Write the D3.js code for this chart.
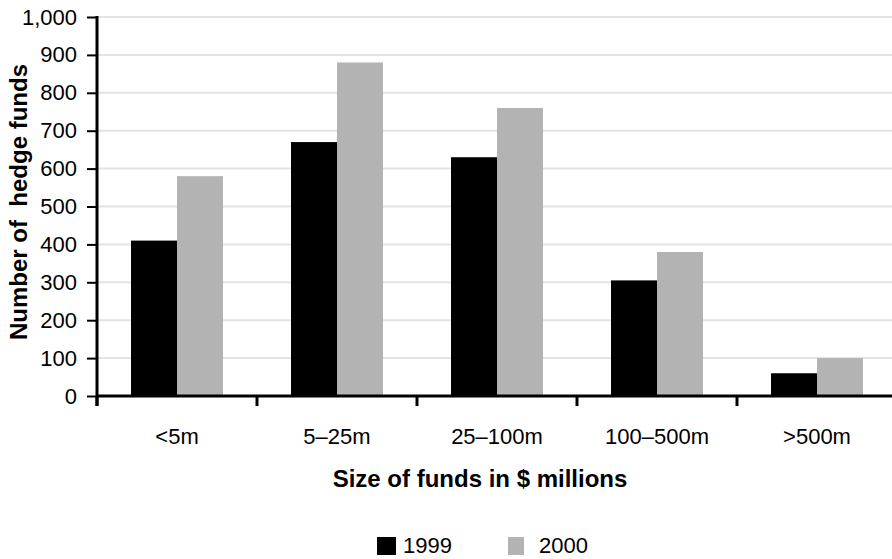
<!DOCTYPE html>
<html>
<head>
<meta charset="utf-8">
<script src="https://cdn.jsdelivr.net/npm/d3@7"></script>
<style>
  body { margin: 0; background: #fff; }
  svg { display: block; font-family: "Liberation Sans", Arial, Helvetica, sans-serif; }
</style>
</head>
<body>
<svg width="892" height="559"></svg>
<script>
const categories = ['<5m', '5–25m', '25–100m', '100–500m', '>500m'];
const years = ['1999', '2000'];
const values1999 = [410, 670, 630, 305, 60];
const values2000 = [580, 880, 760, 380, 100];
const yTicks = [0, 100, 200, 300, 400, 500, 600, 700, 800, 900, 1000];
const colors = ['#000000', '#b3b3b3'];

const width = 892;
const height = 559;
const plotLeft = 97;
const plotRight = 897;
const plotTop = 17;
const plotBottom = 396;

const rows = categories.map((c, i) => ({ category: c, values: [values1999[i], values2000[i]] }));

const svg = d3.select('svg');

const xScale = d3.scaleBand()
    .domain(categories)
    .range([plotLeft, plotRight])
    .paddingInner(0.425)
    .paddingOuter(0.2125);

const xInner = d3.scaleBand()
    .domain(years)
    .range([0, xScale.bandwidth()]);

const yScale = d3.scaleLinear()
    .domain([0, 1000])
    .range([plotBottom, plotTop]);

// gridlines
svg.append('g')
    .selectAll('line')
    .data(yTicks.filter(d => d > 0))
    .enter()
    .append('line')
    .attr('x1', plotLeft)
    .attr('x2', width)
    .attr('y1', d => yScale(d))
    .attr('y2', d => yScale(d))
    .attr('stroke', '#e3e3e3')
    .attr('stroke-width', 2);

// bars
const groups = svg.append('g')
    .selectAll('.bar')
    .data(rows)
    .enter()
    .append('g')
    .classed('bar', true)
    .attr('transform', d => `translate(${xScale(d.category)}, 0)`);

groups.selectAll('rect')
    .data(d => d.values.map((v, i) => ({ year: years[i], value: v, i })))
    .enter()
    .append('rect')
    .attr('x', d => xInner(d.year))
    .attr('y', d => yScale(d.value))
    .attr('width', xInner.bandwidth())
    .attr('height', d => plotBottom - yScale(d.value))
    .attr('fill', d => colors[d.i]);

// y axis
const yAxis = d3.axisLeft(yScale)
    .tickValues(yTicks)
    .tickSizeInner(10)
    .tickSizeOuter(0)
    .tickPadding(10)
    .tickFormat(d3.format(','));

const yAxisG = svg.append('g')
    .attr('transform', `translate(${plotLeft}, 0)`)
    .classed('y-axis', true)
    .call(yAxis);

yAxisG.select('.domain')
    .attr('stroke-width', 3)
    .attr('d', `M0,${plotTop - 1}V${plotBottom + 10}`);
yAxisG.selectAll('.tick line').attr('stroke-width', 2);
yAxisG.selectAll('.tick text')
    .attr('font-size', 22)
    .attr('fill', '#000')
    .style('font-family', '"Liberation Sans", Arial, sans-serif');

// x axis line
svg.append('line')
    .attr('x1', plotLeft)
    .attr('x2', width)
    .attr('y1', plotBottom)
    .attr('y2', plotBottom)
    .attr('stroke', '#000')
    .attr('stroke-width', 3);

// x tick marks at category boundaries
const half = xScale.step() * xScale.paddingOuter();
svg.append('g')
    .selectAll('line')
    .data(categories)
    .enter()
    .append('line')
    .attr('x1', d => xScale(d) - half)
    .attr('x2', d => xScale(d) - half)
    .attr('y1', plotBottom)
    .attr('y2', plotBottom + 10)
    .attr('stroke', '#000')
    .attr('stroke-width', 3);

// category labels
const xAxis = d3.axisBottom(xScale)
    .tickSize(0)
    .tickPadding(32);

const xAxisG = svg.append('g')
    .attr('transform', `translate(0, ${plotBottom})`)
    .call(xAxis);
xAxisG.select('.domain').remove();
xAxisG.selectAll('.tick text')
    .attr('font-size', 22)
    .attr('fill', '#000')
    .style('font-family', '"Liberation Sans", Arial, sans-serif');

// axis titles
svg.append('text')
    .attr('x', 480)
    .attr('y', 487)
    .style('text-anchor', 'middle')
    .attr('font-size', 24)
    .attr('font-weight', 'bold')
    .text('Size of funds in $ millions');

svg.append('text')
    .attr('transform', 'translate(27, 202) rotate(-90)')
    .style('text-anchor', 'middle')
    .style('white-space', 'pre')
    .attr('xml:space', 'preserve')
    .attr('font-size', 24)
    .attr('font-weight', 'bold')
    .text('Number of  hedge funds');

// legend
const legendX = [377, 508];
const legendTextX = [403, 539];
const legend = svg.append('g')
    .selectAll('g')
    .data(years)
    .enter()
    .append('g');

legend.append('rect')
    .attr('x', (d, i) => legendX[i])
    .attr('y', 537)
    .attr('width', (d, i) => i === 0 ? 19 : 16)
    .attr('height', 18)
    .attr('fill', (d, i) => colors[i]);

legend.append('text')
    .attr('x', (d, i) => legendTextX[i])
    .attr('y', 553)
    .attr('font-size', 22)
    .text(d => d);
</script>
</body>
</html>
